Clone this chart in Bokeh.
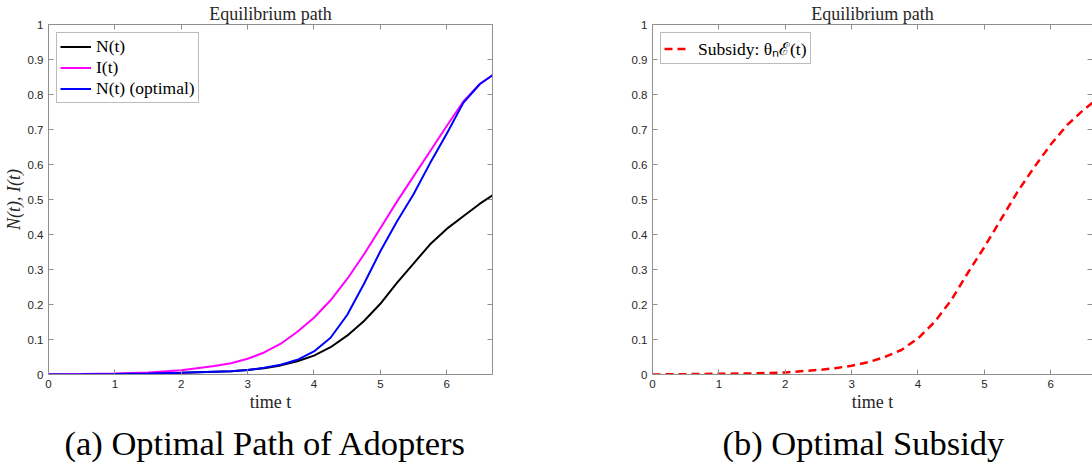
from bokeh.plotting import figure
from bokeh.models import (Range1d, LinearAxis, FixedTicker, CustomJSTickFormatter,
                          Legend, LegendItem, Title)
from bokeh.layouts import row
from bokeh.embed import file_html
from bokeh.resources import INLINE

# ---------------- data ----------------
t = [0, 0.5, 1, 1.5, 2, 2.5, 2.75, 3, 3.25, 3.5, 3.75, 4, 4.25, 4.5, 4.75,
     5, 5.25, 5.5, 5.75, 6, 6.25, 6.5, 6.69]
N_eq = [0, 0.0005, 0.0015, 0.003, 0.005, 0.008, 0.0095, 0.013, 0.018, 0.026, 0.038,
        0.054, 0.078, 0.111, 0.152, 0.202, 0.262, 0.317, 0.372, 0.416, 0.452, 0.488, 0.512]
I_path = [0, 0.0015, 0.003, 0.006, 0.012, 0.024, 0.032, 0.045, 0.063, 0.088, 0.122,
          0.162, 0.212, 0.273, 0.342, 0.418, 0.494, 0.566, 0.638, 0.71, 0.78, 0.83, 0.855]
N_opt = [0, 0.0005, 0.0015, 0.003, 0.005, 0.008, 0.0095, 0.013, 0.019, 0.028, 0.042,
         0.066, 0.105, 0.17, 0.258, 0.352, 0.437, 0.515, 0.604, 0.688, 0.776, 0.83, 0.855]
subsidy = [0, 0.001, 0.002, 0.003, 0.006, 0.013, 0.018, 0.025, 0.035, 0.05, 0.07,
           0.103, 0.15, 0.212, 0.29, 0.364, 0.443, 0.522, 0.592, 0.657, 0.713, 0.757, 0.785]

x_ticks = [0, 1, 2, 3, 4, 5, 6]
y_ticks = [0, 0.1, 0.2, 0.3, 0.4, 0.5, 0.6, 0.7, 0.8, 0.9, 1.0]

title_text = "Equilibrium path"
xlabel_text = "time t"
ylabel_text = "N(t), I(t)"
caption_a = "(a) Optimal Path of Adopters"
caption_b = "(b) Optimal Subsidy"
legend_a = ["N(t)", "I(t)", "N(t) (optimal)"]
legend_b = ["Subsidy: \u03b8\u2099\u2130(t)"]

# ---------------- style ----------------
AX = "#8f8f8f"
TXT = "#262626"
SERIF = "Liberation Serif"
SANS = "Liberation Sans"
fmt = CustomJSTickFormatter(code="return Number(tick.toFixed(2)).toString()")

H = 469
TOP, BOTTOM = 24, 95
PX_PER_T = 444 / 6.69


def make_fig(width, left, right, xmax, ylabel=None, caption="", cap_offset=0):
    p = figure(width=width, height=H, x_range=Range1d(0, xmax), y_range=Range1d(0, 1),
               x_axis_type=None, y_axis_type=None, output_backend="svg",
               toolbar_location=None, min_border_left=left, min_border_right=right,
               min_border_top=TOP, min_border_bottom=BOTTOM)
    p.outline_line_color = None
    p.xgrid.visible = False
    p.ygrid.visible = False
    p.background_fill_color = "white"
    p.border_fill_color = "white"
    for side, ticks in (("below", x_ticks), ("above", x_ticks), ("left", y_ticks), ("right", y_ticks)):
        ax = LinearAxis(ticker=FixedTicker(ticks=ticks), formatter=fmt,
                        major_tick_in=5, major_tick_out=0, minor_tick_in=0, minor_tick_out=0,
                        axis_line_color=AX, major_tick_line_color=AX,
                        major_label_text_font=SANS, major_label_text_font_size="11.5px",
                        major_label_text_color=TXT, major_label_standoff=5)
        if side in ("above", "right"):
            ax.major_label_text_font_size = "0px"
            ax.major_label_text_color = None
            ax.major_label_standoff = 0
        if side == "below":
            ax.axis_label = xlabel_text
            ax.axis_label_text_font = SERIF
            ax.axis_label_text_font_size = "18px"
            ax.axis_label_text_font_style = "normal"
            ax.axis_label_text_color = TXT
            ax.axis_label_standoff = 1
        if side == "left" and ylabel:
            ax.axis_label = ylabel
            ax.axis_label_text_font = SERIF
            ax.axis_label_text_font_size = "18px"
            ax.axis_label_text_font_style = "italic"
            ax.axis_label_text_color = TXT
            ax.axis_label_standoff = 1
        p.add_layout(ax, side)
    p.title.text = title_text
    p.title.align = "center"
    p.title.text_font = SERIF
    p.title.text_font_size = "18px"
    p.title.text_font_style = "normal"
    p.title.text_color = TXT
    p.title.standoff = 2
    cap = Title(text=caption, align="left", text_font=SERIF, text_font_size="34.5px",
                text_font_style="normal", text_color="#000000", standoff=14,
                offset=cap_offset)
    p.add_layout(cap, "below")
    return p


def make_legend(items, glyph_width, standoff):
    return Legend(items=items, location="top_left", margin=8, padding=3, spacing=0,
                  glyph_width=glyph_width, glyph_height=17, label_height=17,
                  label_standoff=standoff, label_text_font=SERIF,
                  label_text_font_size="17.5px", label_text_color="#000000",
                  border_line_color="#7a7a7a", border_line_width=1,
                  background_fill_alpha=1)


# ---------------- panel (a) ----------------
pa = make_fig(560, 48, 68, 6.69, ylabel=ylabel_text, caption=caption_a, cap_offset=16)
ra = pa.line(t, N_eq, line_color="#000000", line_width=2)
rb = pa.line(t, I_path, line_color="#ff00ff", line_width=2)
rc = pa.line(t, N_opt, line_color="#0000ff", line_width=2)
pa.add_layout(make_legend([LegendItem(label=legend_a[0], renderers=[ra]),
                           LegendItem(label=legend_a[1], renderers=[rb]),
                           LegendItem(label=legend_a[2], renderers=[rc])], 31, 5))

# ---------------- panel (b) ----------------
pb = make_fig(532, 92, 0, 440 / PX_PER_T, caption=caption_b, cap_offset=70)
rd = pb.line(t, subsidy, line_color="#ff0000", line_width=2.5, line_dash="8 5")
pb.add_layout(make_legend([LegendItem(label=legend_b[0], renderers=[rd])], 26, 8))

layout = row(pa, pb)
open("out.html", "w").write(file_html(layout, INLINE))
